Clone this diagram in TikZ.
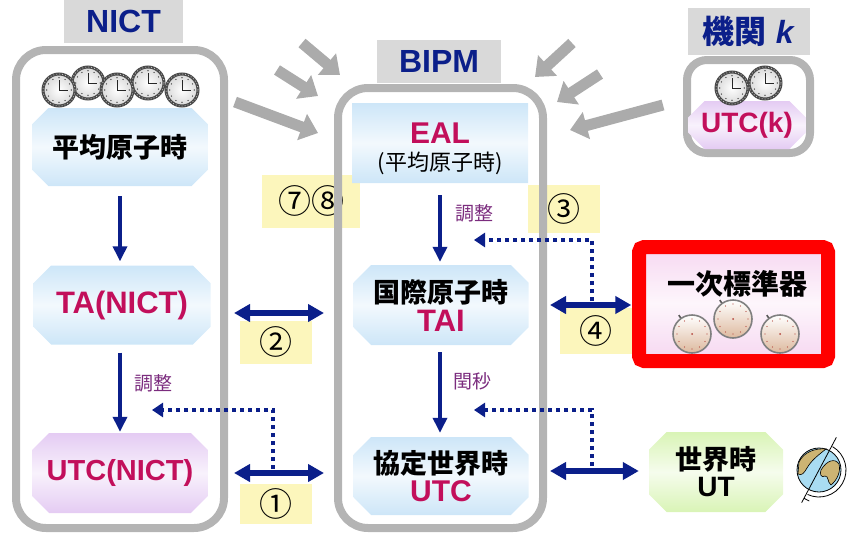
\documentclass[tikz,border=0pt]{standalone}
\usepackage{fontspec}
\setmainfont{Liberation Sans}
\newfontfamily\jp{Noto Sans CJK JP}
\usetikzlibrary{arrows.meta,shapes.misc,calc}

\definecolor{navy}{HTML}{0B1F8A}
\definecolor{crim}{HTML}{C20F5B}
\definecolor{labc}{HTML}{7B2C7E}
\definecolor{framec}{HTML}{B4B4B4}
\definecolor{tagc}{HTML}{D9D9D9}
\definecolor{notec}{HTML}{FCF6BC}
\definecolor{icy}{HTML}{CDE6F8}
\definecolor{lilac}{HTML}{E4CBF3}
\definecolor{mint}{HTML}{D9F4B6}
\definecolor{rose}{HTML}{F7DAF2}
\definecolor{feedc}{HTML}{ABABAB}
\definecolor{rim}{HTML}{4A4A4A}
\definecolor{peach}{HTML}{DDB99E}
\definecolor{tickred}{HTML}{B4463C}
\definecolor{sea}{HTML}{A9DCF2}
\definecolor{land}{HTML}{CDB473}

\newcommand{\sz}[1]{\fontsize{#1}{#1}\selectfont}

% clock face: x, y, radius
\newcommand{\clockface}[3]{%
  \begin{scope}[shift={(#1,#2)}]
    \shade[inner color=white,outer color=gray!30] (0,0) circle (#3pt);
    \draw[rim,line width=3pt] (0,0) circle (#3pt);
    \draw[gray!40,line width=0.8pt,dash pattern=on 0.8pt off 2.2pt] (0,0) circle (#3pt);
    \foreach \t in {0,30,...,330}
      \fill[black] (\t:{0.76*#3pt}) circle (0.6pt);
    \draw[black!85,line width=0.9pt] (90:{0.62*#3pt}) -- (0,0) -- (0:{0.55*#3pt});
  \end{scope}}

% stopwatch: x, y
\newcommand{\stopwatch}[2]{%
  \begin{scope}[shift={(#1,#2)}]
    \draw[gray!70!black,line width=1.6pt] (125:18pt) -- (125:23pt);
    \shade[top color=white,bottom color=peach] (0,0) circle (19pt);
    \draw[gray,line width=1.6pt] (0,0) circle (19pt);
    \foreach \t in {0,30,...,330}
      \fill[tickred] (\t:15pt) circle (0.7pt);
    \fill[tickred] (0,0) circle (1pt);
  \end{scope}}

\begin{document}
\begin{tikzpicture}[x=1pt,y=-1pt,
  tagbox/.style={fill=tagc,text=navy,font=\bfseries\sz{32}},
  frame/.style={draw=framec,line width=8pt,rounded corners=30pt},
  note/.style={fill=notec,font=\jp\sz{33}},
  box/.style={chamfered rectangle,chamfered rectangle xsep=14pt,inner sep=0pt,
    top color=#1,bottom color=#1,middle color=white!75!#1},
  lab/.style={text=labc,font=\jp\sz{19}},
  flow/.style={navy,line width=3.5pt,-{Triangle[length=15pt,width=14pt]}},
  link/.style={navy,line width=6pt,{Triangle[length=16pt,width=17pt]}-{Triangle[length=16pt,width=17pt]}},
  dots/.style={navy,line width=4pt,dash pattern=on 4pt off 4pt,-{Triangle[length=11pt,width=14pt]}},
  feed/.style={feedc,line width=11pt,-{Triangle[length=17pt,width=27pt]}}]
  \useasboundingbox (0,0) rectangle (863,541);

  % number tags
  \node[note,minimum width=98pt,minimum height=53pt] (n78) at (311,201) {⑦⑧};
  \node[note,minimum width=72pt,minimum height=48pt] (n3) at (564,209) {③};
  \node[note,minimum width=72pt,minimum height=46pt] (n4) at (596,331) {④};
  \node[note,minimum width=72pt,minimum height=43pt] (n2) at (276,342) {②};
  \node[note,minimum width=72pt,minimum height=40pt] (n1) at (276,504) {①};

  % data flowing into BIPM
  \foreach \xa/\ya/\xb/\yb in {302/43/340/75,277/70/318/96,235/102/318/133,
      572/43/535/77,600/74/557/102,663/105/570/130}
    \draw[feed] (\xa,\ya) -- (\xb,\yb);

  % institutes
  \node[frame,minimum width=208pt,minimum height=478pt] (nict) at (120,289) {};
  \node[frame,minimum width=205pt,minimum height=440pt] (bipm) at (440.5,308) {};
  \node[frame,minimum width=123pt,minimum height=93pt,rounded corners=20pt] (inst) at (748.5,106.5) {};
  \node[tagbox,minimum width=119pt,minimum height=43pt] (nicttag) at (123.5,21.5) {NICT};
  \node[tagbox,minimum width=124pt,minimum height=43pt] (bipmtag) at (439,61.5) {BIPM};
  \node[tagbox,minimum width=122pt,minimum height=47pt] (insttag) at (749,31.5) {{\jp 機関} \textit{k}};

  % time scales
  \node[box=icy,minimum width=176pt,minimum height=78pt,font=\jp\bfseries\sz{27}] (avg) at (120,147) {平均原子時};
  \node[box=icy,minimum width=177pt,minimum height=79pt,text=crim,font=\bfseries\sz{31}] (ta) at (122,305) {TA(NICT)};
  \node[box=lilac,minimum width=176pt,minimum height=80pt,text=crim,font=\bfseries\sz{29}] (utcn) at (120,473) {UTC(NICT)};
  \node[box=icy,minimum width=176pt,minimum height=80pt] (eal) at (440,143) {};
  \node[align=center] (ealtxt) at (440,149)
    {{\color{crim}\bfseries\sz{30}EAL}\\[7pt]{\jp\sz{22}(平均原子時)}};
  \node[box=icy,minimum width=175pt,minimum height=80pt,align=center] (tai) at (441,305)
    {{\jp\bfseries\sz{27}国際原子時}\\[4pt]{\color{crim}\bfseries\sz{31}TAI}};
  \node[box=icy,minimum width=175pt,minimum height=78pt,align=center] (utc) at (441,476)
    {{\jp\bfseries\sz{27}協定世界時}\\[4pt]{\color{crim}\bfseries\sz{30}UTC}};
  \node[box=rose,minimum width=177pt,minimum height=104pt] (prim) at (735,303) {};
  \node[font=\jp\bfseries\sz{28}] (primtxt) at (737,284) {一次標準器};
  \node[box=mint,minimum width=134pt,minimum height=80pt,align=center] (ut) at (716,472)
    {{\jp\bfseries\sz{27}世界時}\\[4pt]{\bfseries\sz{28}UT}};
  \node[box=lilac,minimum width=104pt,minimum height=48pt,text=crim,font=\bfseries\sz{28}] (utck) at (747,125) {UTC(k)};

  % clocks
  \clockface{88}{83}{16}
  \clockface{148}{83}{16}
  \clockface{59}{90}{16}
  \clockface{117}{90}{16}
  \clockface{182}{90}{16}
  \clockface{765}{83}{16}
  \clockface{732}{88}{16}
  \stopwatch{733}{319}
  \stopwatch{692}{334}
  \stopwatch{780}{334}

  % steering inside each institute
  \draw[flow,shorten <=10pt,shorten >=4pt] (avg.south) -- (avg.south |- ta.north);
  \draw[flow,shorten <=8pt,shorten >=1pt] (avg.south |- ta.south) -- (avg.south |- utcn.north);
  \draw[flow,shorten <=12pt,shorten >=3pt] (eal.south) -- (eal.south |- tai.north);
  \draw[flow,shorten <=7pt,shorten >=4pt] (eal.south |- tai.south) -- (eal.south |- utc.north);
  \node[lab] (adjn) at (153,383) {調整};
  \node[lab] (adjb) at (474,213) {調整};
  \node[lab] (leap) at (472,381) {閏秒};

  % comparisons
  \draw[link,shorten <=6pt,shorten >=10pt] ($(nict.east |- ta)+(0,8)$) -- ($(bipm.west |- ta)+(0,8)$);
  \draw[link,shorten <=6pt,shorten >=10pt] (nict.east |- utcn) -- (bipm.west |- utcn);
  \draw[link,shorten <=3pt,shorten >=15pt] (bipm.east |- tai) -- (prim.west |- tai);
  \draw[link,shorten <=3pt,shorten >=10pt] ($(bipm.east |- utc)+(0,-5)$) -- ($(ut.west |- utc)+(0,-5)$);

  % corrections fed back
  \coordinate (tap1) at (273,469);
  \coordinate (adj1) at (152,410);
  \coordinate (tap4) at (592,301);
  \coordinate (adj3) at (474,240);
  \coordinate (tapu) at (592,466);
  \coordinate (adjl) at (474,410);
  \draw[dots] (tap1) |- (adj1);
  \draw[dots] (tap4) |- (adj3);
  \draw[dots] (tapu) |- (adjl);

  % highlight
  \node[draw=red,line width=14pt,rounded corners=5pt,minimum width=189pt,minimum height=114pt] (primframe) at (733.5,304) {};

  % globe
  \begin{scope}[shift={(819,470)}]
    \filldraw[fill=sea,draw=black,line width=0.8pt] (0,0) circle (22pt);
    \filldraw[fill=land,draw=black,line width=0.6pt] (-20,-8) .. controls (-15,-18) and (-4,-22) .. (7,-21)
      .. controls (-2,-14) and (-8,-9) .. (-12,-2) .. controls (-15,3) and (-17,6) .. (-21,4) -- cycle;
    \filldraw[fill=land,draw=black,line width=0.6pt] (2,0) .. controls (8,-10) and (16,-12) .. (20,-6)
      .. controls (22,2) and (18,10) .. (12,15) .. controls (8,12) and (10,6) .. (6,6)
      .. controls (3,8) and (0,5) .. (2,0) -- cycle;
    \draw[line width=0.8pt] (60:27pt) arc[start angle=60,end angle=-115,radius=27pt];
    \draw[line width=0.8pt] (62:37pt) -- (-118:37pt);
    \draw[line width=0.8pt] (-118:32pt) -- ++(-28:6pt);
  \end{scope}
\end{tikzpicture}
\end{document}
